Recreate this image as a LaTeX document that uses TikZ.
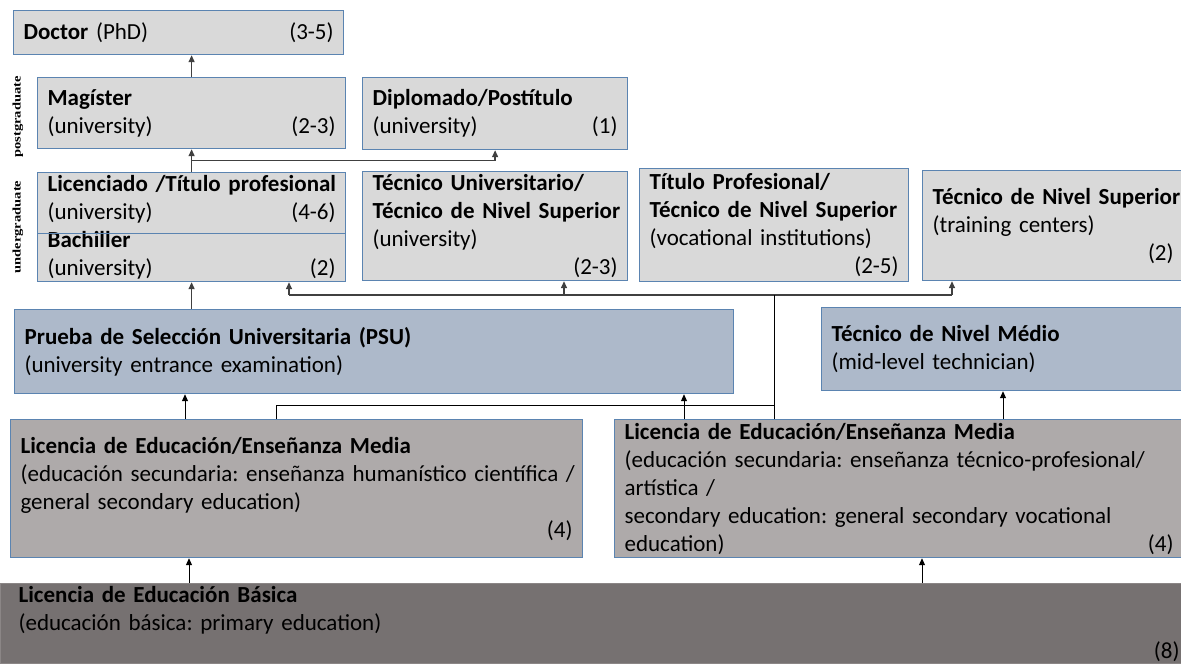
\documentclass[tikz,border=0pt]{standalone}
\usepackage{fontspec}
\setmainfont{Carlito}
\newfontfamily\labelfont{Liberation Serif}
\usetikzlibrary{arrows.meta,calc}

\definecolor{boxline}{HTML}{5B84B1}
\definecolor{lightfill}{HTML}{D9D9D9}
\definecolor{bluefill}{HTML}{ADB9CA}
\definecolor{greyfill}{HTML}{AEAAAA}
\definecolor{darkfill}{HTML}{767171}
\definecolor{linkgrey}{HTML}{404040}

% right-aligned duration at the end of a line
\newcommand\yrs[1]{\hskip 0pt plus 1filll #1}
% text settings used inside the boxes
\newcommand\boxfont{\fontsize{23}{28}\selectfont\frenchspacing
  \hyphenpenalty10000\relax\exhyphenpenalty10000\relax}

\tikzset{
  box/.style={draw=boxline, line width=1.2pt, rectangle, anchor=north west,
    inner xsep=10pt, inner ysep=0pt, align=left, text=black, font=\boxfont},
  wh/.code 2 args={\pgfmathsetmacro\boxtw{#1-20}%
    \edef\next{\noexpand\tikzset{minimum width=#1pt, minimum height=#2pt, text width=\boxtw pt}}\next},
  lightbox/.style={box, fill=lightfill},
  bluebox/.style={box, fill=bluefill},
  greybox/.style={box, fill=greyfill},
  darkbox/.style={box, fill=darkfill, draw=darkfill!85!white, inner xsep=18pt},
  link/.style={draw=linkgrey, line width=1.4pt},
  linkarrow/.style={link, -{Triangle[length=7pt,width=6pt]}},
  thinlink/.style={draw=black, line width=1pt},
  thinarrow/.style={thinlink, -{Triangle[length=7pt,width=6pt]}},
  levellabel/.style={rotate=90, text=black, font=\labelfont\bfseries\fontsize{14.5}{15}\selectfont},
}

\begin{document}
\begin{tikzpicture}[x=1pt, y=-1pt]
\useasboundingbox (0,0) rectangle (1181,664);
\clip (0,0) rectangle (1181,664);

% postgraduate level
\node[lightbox, wh={330}{44}] (doc) at (13,10) {\textbf{Doctor} (PhD)\yrs{(3-5)}};
\node[lightbox, wh={308}{71}] (mag) at (37,77) {\textbf{Magíster}\\(university)\yrs{(2-3)}};
\node[lightbox, wh={265}{72}] (dip) at (362,77) {\textbf{Diplomado/Postítulo}\\(university)\yrs{(1)}};

% undergraduate level
\node[lightbox, wh={308}{109}] (lb) at (37,172)
  {\mbox{\textbf{Licenciado /Título profesional}}\\(university)\yrs{(4-6)}\\\textbf{Bachiller}\\(university)\yrs{(2)}};
\draw[draw=boxline, line width=1.2pt]
  ($(lb.north west)!0.56!(lb.south west)$) -- ($(lb.north east)!0.56!(lb.south east)$);
\node[lightbox, wh={265}{109}] (tu) at (362,171)
  {\mbox{\textbf{Técnico Universitario/}}\\\mbox{\textbf{Técnico de Nivel Superior}}\\(university)\\\mbox{}\yrs{(2-3)}};
\node[lightbox, wh={269}{113}] (tp) at (639,168)
  {\mbox{\textbf{Título Profesional/}}\\\mbox{\textbf{Técnico de Nivel Superior}}\\\mbox{(vocational institutions)}\\\mbox{}\yrs{(2-5)}};
\node[lightbox, wh={261}{110}] (ts) at (922,170)
  {\mbox{\textbf{Técnico de Nivel Superior}}\\(training centers)\\\mbox{}\yrs{(2)}};

% entrance examination and mid-level technician
\node[bluebox, wh={719}{84}] (psu) at (14,309)
  {\textbf{Prueba de Selección Universitaria (PSU)}\\(university entrance examination)};
\node[bluebox, wh={362}{83}] (med) at (821,307)
  {\textbf{Técnico de Nivel Médio}\\(mid-level technician)};

% secondary education
\node[greybox, wh={572}{138}] (lml) at (10,419)
  {\mbox{\textbf{Licencia de Educación/Enseñanza Media}}\\\mbox{(educación secundaria: enseñanza humanístico científica /}\\general secondary education)\\\mbox{}\yrs{(4)}};
\node[greybox, wh={569}{138}] (lmr) at (614,419)
  {\mbox{\textbf{Licencia de Educación/Enseñanza Media}}\\\mbox{(educación secundaria: enseñanza técnico-profesional/}\\artística /\\\mbox{secondary education: general secondary vocational}\\education)\yrs{(4)}};

% primary education
\node[darkbox, wh={1181}{80}] (bas) at (0,583)
  {\textbf{Licencia de Educación Básica}\\(educación básica: primary education)\\\mbox{}\yrs{(8)}};

% level labels
\node[levellabel] (pgl) at (18,117) {\scalebox{1}[0.8]{postgraduate}};
\node[levellabel] (ugl) at (18,227) {\scalebox{1}[0.8]{undergraduate}};

% connectors between postgraduate and undergraduate
\draw[linkarrow] (mag.north) -- (mag.north |- doc.south);
\draw[linkarrow] (lb.north) -- (lb.north |- mag.south);
\coordinate (pg) at ($(lb.north)!0.5!(mag.south)$);
\draw[linkarrow] (pg) -| (dip.south);

% connectors into the undergraduate row
\draw[linkarrow] (lb.south |- psu.north) -- (lb.south);
\coordinate (ugA) at (289,295);
\coordinate (ugB) at (564,295);
\coordinate (ugC) at (952,295);
\coordinate (ugD) at (774,295);
\draw[link] (ugA) -- (ugC);
\draw[linkarrow] (ugA) -- (ugA |- lb.south);
\draw[linkarrow] (ugB) -- (ugB |- tu.south);
\draw[linkarrow] (ugC) -- (ugC |- ts.south);
\draw[thinlink] (ugD |- lmr.north) -- (ugD);

% connectors from secondary education
\coordinate (sA) at (185,405);
\coordinate (sB) at (276,405);
\coordinate (sC) at (684,405);
\coordinate (sE) at (1003,405);
\draw[thinarrow] (sA |- lml.north) -- (sA |- psu.south);
\draw[thinlink] (sB |- lml.north) -- (sB) -- (sB -| ugD);
\draw[thinarrow] (sC |- lmr.north) -- (sC |- psu.south);
\draw[thinarrow] (sE |- lmr.north) -- (sE |- med.south);

% connectors from primary education
\coordinate (bA) at (189,570);
\coordinate (bB) at (922,570);
\draw[thinarrow] (bA |- bas.north) -- (bA |- lml.south);
\draw[thinarrow] (bB |- bas.north) -- (bB |- lmr.south);
\end{tikzpicture}
\end{document}
